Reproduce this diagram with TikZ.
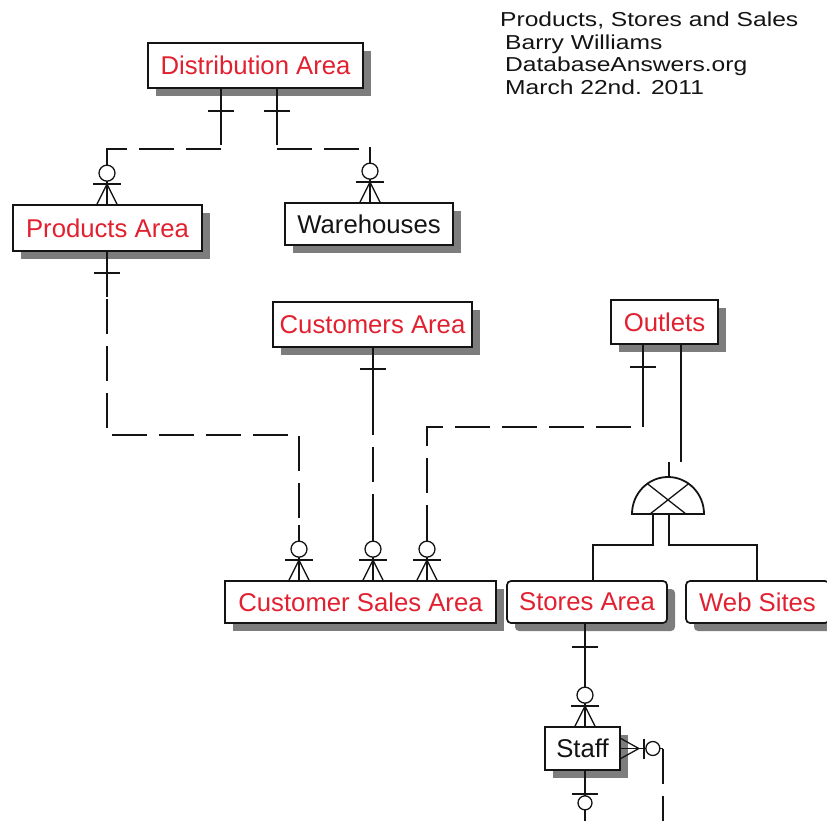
\documentclass[tikz,border=0pt]{standalone}
\usepackage{fontspec}
\setmainfont{Liberation Sans}
\usetikzlibrary{shadows,calc}
\definecolor{erred}{RGB}{225,32,48}
\definecolor{ink}{RGB}{20,20,20}
\definecolor{shade}{RGB}{125,125,125}
\newcommand{\ttlline}[1]{\scalebox{1}[0.82]{#1}}
\begin{document}
\begin{tikzpicture}[x=1pt,y=-1pt,
  ent/.style={draw=ink, line width=1.7pt, fill=white, inner sep=0pt,
    font=\fontsize{25.7}{30}\selectfont,
    drop shadow={shadow xshift=8pt, shadow yshift=-8pt, fill=shade, opacity=1}},
  entred/.style={ent, text=erred},
  entblk/.style={ent, text=ink},
  rel/.style={line width=1.8pt, draw=ink},
  thinrel/.style={line width=1.3pt, draw=ink},
  dsh/.style={rel, dash pattern=on 35pt off 12pt},
  ttl/.style={anchor=base west, inner sep=0pt, text=ink, font=\fontsize{24.6}{29}\selectfont},
  cfoot/.pic={
    \draw[rel] (0,0) -- (0,-55);
    \draw[thinrel] (-10,0) -- (0,-20) -- (10,0);
    \draw[rel] (-14,-20) -- (14,-20);
    \draw[thinrel, fill=white] (0,-31) circle[radius=8pt];
  },
  onebar/.pic={\draw[rel] (-13,0) -- (13,0);},
]
\useasboundingbox (0,0) rectangle (827,821);
\clip (0,0) rectangle (827,821);

% title
\node[ttl] (t1) at (500,27) {\ttlline{Products, Stores and Sales}};
\node[ttl] (t2) at (505,49.5) {\ttlline{Barry Williams}};
\node[ttl] (t3) at (505,72) {\ttlline{DatabaseAnswers.org}};
\node[ttl] (t4) at (505,94.5) {\ttlline{March 22nd. 2011}};

% entities
\node[entred, minimum width=215pt, minimum height=45pt] (DA) at (255.5,65.5) {Distribution Area};
\node[entred, minimum width=189pt, minimum height=46pt] (PA) at (107.5,228) {Products Area};
\node[entblk, minimum width=168pt, minimum height=42pt] (WH) at (369,224) {Warehouses};
\node[entred, minimum width=199pt, minimum height=45pt] (CuA) at (372.5,324.5) {Customers Area};
\node[entred, minimum width=107pt, minimum height=44pt] (Out) at (664.5,322) {Outlets};
\node[entred, minimum width=271pt, minimum height=42pt] (CSA) at (360.5,602) {Customer Sales Area};
\node[entred, rounded corners=4pt, minimum width=160pt, minimum height=42pt] (SA) at (587,602) {Stores Area};
\node[entred, rounded corners=4pt, minimum width=143pt, minimum height=42pt] (WS) at (757.5,602) {Web Sites};
\node[entblk, minimum width=75pt, minimum height=43pt] (ST) at (582.5,748.5) {Staff};

% bend coordinates
\coordinate (c1) at (221,149);  \coordinate (c1b) at (107,149);
\coordinate (c2) at (277,149);  \coordinate (c2b) at (370,149);
\coordinate (c3) at (107,435);  \coordinate (c3b) at (299,435);
\coordinate (c4) at (373,400);
\coordinate (c5) at (643,427);  \coordinate (c5b) at (427,427);
\coordinate (s6) at (585,680);
\coordinate (c7) at (681,462);
\coordinate (sb) at (669,462);  \coordinate (sc) at (669,477);
\coordinate (l8) at (653,514);  \coordinate (l8a) at (653,545); \coordinate (l8b) at (593,545);
\coordinate (l9) at (669,514);  \coordinate (l9a) at (669,545); \coordinate (l9b) at (757,545);
\coordinate (c10) at (663,748.5); \coordinate (c10b) at (663,835);
\coordinate (c11) at (585,835);

% Distribution Area -> Products Area
\draw[rel] (DA.south -| c1) -- ($(c1)+(0,-4)$);
\draw[dsh] (c1) -- (c1b) -- (PA.north -| c1b);
\pic at ($(DA.south -| c1)+(0,22)$) {onebar};
\pic at (PA.north -| c1b) {cfoot};

% Distribution Area -> Warehouses
\draw[rel] (DA.south -| c2) -- ($(c2)+(0,-4)$);
\draw[dsh] (c2) -- (c2b) -- (WH.north -| c2b);
\pic at ($(DA.south -| c2)+(0,22)$) {onebar};
\pic at (WH.north -| c2b) {cfoot};

% Products Area -> Customer Sales Area
\draw[dsh] (PA.south -| c3) -- (c3) -- (c3b) -- (CSA.north -| c3b);
\draw[rel] (PA.south -| c3) -- ++(0,45);
\pic at ($(PA.south -| c3)+(0,21)$) {onebar};
\pic at (CSA.north -| c3b) {cfoot};

% Customers Area -> Customer Sales Area
\draw[dsh] (c4) -- (CSA.north -| c4);
\draw[rel] (CuA.south -| c4) -- (c4);
\pic at ($(CuA.south -| c4)+(0,21)$) {onebar};
\pic at (CSA.north -| c4) {cfoot};

% Outlets -> Customer Sales Area
\draw[dsh] (Out.south -| c5) -- (c5) -- (c5b) -- (CSA.north -| c5b);
\draw[rel] (Out.south -| c5) -- ++(0,56);
\pic at ($(Out.south -| c5)+(0,22)$) {onebar};
\pic at (CSA.north -| c5b) {cfoot};

% Outlets -> subtype symbol
\draw[rel] (Out.south -| c7) -- (c7);
\draw[rel] (sb) -- (sc);
\draw[rel] (632,514) arc[start angle=180, end angle=0, x radius=36pt, y radius=37pt] -- cycle;
\draw[thinrel] (647.4,483.7) -- (686,514);
\draw[thinrel] (688.6,483.7) -- (650,514);
\draw[rel] (l8) -- (l8a) -- (l8b) -- (SA.north -| l8b);
\draw[rel] (l9) -- (l9a) -- (l9b) -- (WS.north -| l9b);

% Stores Area -> Staff
\draw[rel] (SA.south -| s6) -- (ST.north -| s6);
\pic at ($(SA.south -| s6)+(0,23)$) {onebar};
\pic at (ST.north -| s6) {cfoot};

% Staff self relationship (right)
\draw[rel] (ST.east) -- (c10);
\draw[dsh] (c10) -- (c10b);
\draw[thinrel] ($(ST.east)+(0,-10)$) -- ($(ST.east)+(18,0)$) -- ($(ST.east)+(0,10)$);
\draw[rel] ($(ST.east)+(23,-10)$) -- ($(ST.east)+(23,10)$);
\draw[thinrel, fill=white] ($(ST.east)+(32,0)$) circle[radius=7pt];

% Staff bottom
\draw[rel] (ST.south -| s6) -- (c11);
\draw[rel] ($(ST.south -| s6)+(-13,23)$) -- ($(ST.south -| s6)+(13,23)$);
\draw[thinrel, fill=white] ($(ST.south -| s6)+(0,32)$) circle[radius=7pt];
\end{tikzpicture}
\end{document}
